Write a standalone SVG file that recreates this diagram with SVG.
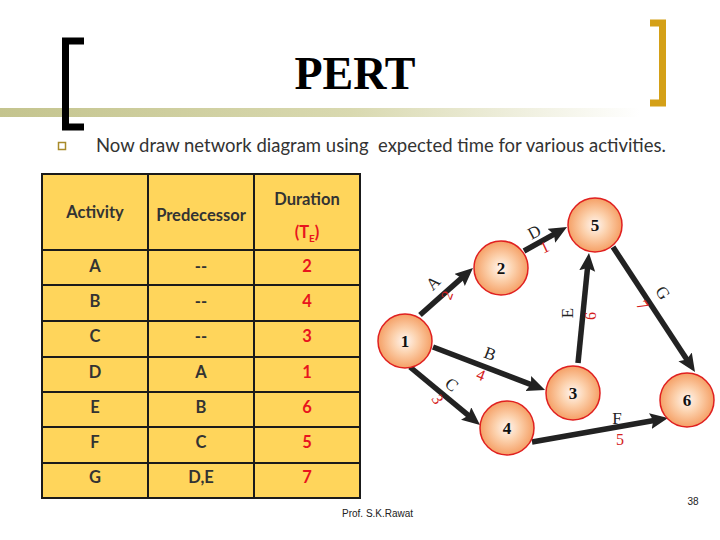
<svg xmlns="http://www.w3.org/2000/svg" width="720" height="540" viewBox="0 0 720 540">
<defs>
<linearGradient id="bar" x1="0" y1="0" x2="1" y2="0">
<stop offset="0" stop-color="#C4C48E"/>
<stop offset="0.55" stop-color="#D9D9B0"/>
<stop offset="1" stop-color="#FFFFFF"/>
</linearGradient>
<radialGradient id="ball" cx="0.5" cy="0.5" r="0.5">
<stop offset="0" stop-color="#FFF6F2"/>
<stop offset="0.45" stop-color="#FCD2AE"/>
<stop offset="1" stop-color="#F5A066"/>
</radialGradient>
<marker id="ah" markerUnits="userSpaceOnUse" markerWidth="20" markerHeight="18" refX="8" refY="8" orient="auto">
<path d="M0,0 L18,8 L0,16 L3,8 Z" fill="#222"/>
</marker>
<style>
.cell{fill:#FFD55B;stroke:#1a1a1a;stroke-width:2}
.th{font-family:Lato,"Liberation Sans",sans-serif;font-weight:bold;font-size:16.5px;fill:#333;text-anchor:middle}
.td{font-family:Lato,"Liberation Sans",sans-serif;font-weight:bold;font-size:16.5px;fill:#333;text-anchor:middle}
.tn{font-family:Lato,"Liberation Sans",sans-serif;font-weight:bold;font-size:16.5px;fill:#E8141E;text-anchor:middle}
.node circle{fill:url(#ball);stroke:#E02020;stroke-width:1.5}
.node text{font-family:"Liberation Serif",serif;font-weight:bold;font-size:17px;fill:#111;text-anchor:middle}
.edge line{stroke:#222;stroke-width:5.5;marker-end:url(#ah)}
.lt{font-family:"Liberation Serif",serif;font-size:17px;fill:#222;text-anchor:middle}
.ln{font-family:"Liberation Serif",serif;font-size:16px;fill:#D42020;text-anchor:middle}
</style>
</defs>
<rect width="720" height="540" fill="#FFFFFF"/>

<!-- title area -->
<rect x="0" y="108" width="640" height="9" fill="url(#bar)"/>
<path d="M84,41 L65.5,41 L65.5,127 L84,127" fill="none" stroke="#000" stroke-width="7"/>
<path d="M650,23 L662.5,23 L662.5,103 L650,103" fill="none" stroke="#D4A017" stroke-width="7"/>
<text x="355" y="89" font-family="Liberation Serif,serif" font-weight="bold" font-size="46" text-anchor="middle" fill="#000">PERT</text>
<rect x="58.5" y="142.5" width="7" height="7" fill="#fff" stroke="#A88A2A" stroke-width="1.5"/>
<text x="96" y="152" xml:space="preserve" style="white-space:pre" font-family="Lato,'Liberation Sans',sans-serif" font-size="18.5" fill="#333">Now draw network diagram using  expected time for various activities.</text>

<!-- table -->
<g id="table">
<rect class="cell" x="42" y="174" width="106" height="76"/>
<rect class="cell" x="148" y="174" width="106" height="76"/>
<rect class="cell" x="254" y="174" width="106" height="76"/>
<g>
<rect class="cell" x="42" y="250" width="106" height="35"/><rect class="cell" x="148" y="250" width="106" height="35"/><rect class="cell" x="254" y="250" width="106" height="35"/>
<rect class="cell" x="42" y="285" width="106" height="36"/><rect class="cell" x="148" y="285" width="106" height="36"/><rect class="cell" x="254" y="285" width="106" height="36"/>
<rect class="cell" x="42" y="321" width="106" height="36"/><rect class="cell" x="148" y="321" width="106" height="36"/><rect class="cell" x="254" y="321" width="106" height="36"/>
<rect class="cell" x="42" y="357" width="106" height="35"/><rect class="cell" x="148" y="357" width="106" height="35"/><rect class="cell" x="254" y="357" width="106" height="35"/>
<rect class="cell" x="42" y="392" width="106" height="35"/><rect class="cell" x="148" y="392" width="106" height="35"/><rect class="cell" x="254" y="392" width="106" height="35"/>
<rect class="cell" x="42" y="427" width="106" height="36"/><rect class="cell" x="148" y="427" width="106" height="36"/><rect class="cell" x="254" y="427" width="106" height="36"/>
<rect class="cell" x="42" y="463" width="106" height="35"/><rect class="cell" x="148" y="463" width="106" height="35"/><rect class="cell" x="254" y="463" width="106" height="35"/>
</g>
<text class="th" x="95" y="218">Activity</text>
<text class="th" x="201" y="221">Predecessor</text>
<text class="th" x="307" y="205">Duration</text>
<text class="tn" x="307" y="238">(T<tspan font-size="10" dy="4">E</tspan><tspan dy="-4">)</tspan></text>
<text class="td" x="95" y="272">A</text><text class="td" x="201" y="272">--</text><text class="tn" x="307" y="272">2</text>
<text class="td" x="95" y="307">B</text><text class="td" x="201" y="307">--</text><text class="tn" x="307" y="307">4</text>
<text class="td" x="95" y="342">C</text><text class="td" x="201" y="342">--</text><text class="tn" x="307" y="342">3</text>
<text class="td" x="95" y="378">D</text><text class="td" x="201" y="378">A</text><text class="tn" x="307" y="378">1</text>
<text class="td" x="95" y="413">E</text><text class="td" x="201" y="413">B</text><text class="tn" x="307" y="413">6</text>
<text class="td" x="95" y="448">F</text><text class="td" x="201" y="448">C</text><text class="tn" x="307" y="448">5</text>
<text class="td" x="95" y="483">G</text><text class="td" x="201" y="483">D,E</text><text class="tn" x="307" y="483">7</text>
</g>

<!-- connectors -->
<g id="connectors" class="edge">
<line x1="420" y1="315" x2="465.5" y2="274.6"/>
<line x1="524" y1="251" x2="558.3" y2="231.9"/>
<line x1="578" y1="363" x2="588" y2="263"/>
<line x1="613" y1="247" x2="689.5" y2="363.6"/>
<line x1="433" y1="347" x2="535.7" y2="386.4"/>
<line x1="410" y1="367" x2="472.3" y2="418.6"/>
<line x1="532" y1="442" x2="658.2" y2="419.7"/>
</g>
<g id="edge-labels">
<text class="lt" transform="translate(437,287) rotate(-45)">A</text>
<text class="ln" transform="translate(452,297) rotate(-70)">2</text>
<text class="lt" transform="translate(537,237) rotate(-28)">D</text>
<text class="ln" transform="translate(547,252) rotate(-25)">1</text>
<text class="lt" transform="translate(573,313) rotate(-90)">E</text>
<text class="ln" transform="translate(596,316) rotate(-90)">6</text>
<text class="lt" transform="translate(658,296) rotate(57)">G</text>
<text class="ln" transform="translate(638,308) rotate(57)">7</text>
<text class="lt" transform="translate(488,359) rotate(21)">B</text>
<text class="ln" transform="translate(479,380) rotate(21)">4</text>
<text class="lt" transform="translate(448,389) rotate(40)">C</text>
<text class="ln" transform="translate(433,402) rotate(60)">3</text>
<text class="lt" x="617" y="424">F</text>
<text class="ln" x="620" y="445">5</text>
</g>

<!-- nodes -->
<g id="n1" class="node"><circle cx="405" cy="341" r="27"/><text x="405" y="347">1</text></g>
<g id="n2" class="node"><circle cx="501" cy="268" r="27"/><text x="501" y="274">2</text></g>
<g id="n5" class="node"><circle cx="595" cy="225" r="27"/><text x="595" y="231">5</text></g>
<g id="n3" class="node"><circle cx="573" cy="393" r="27"/><text x="573" y="399">3</text></g>
<g id="n4" class="node"><circle cx="507" cy="428" r="27"/><text x="507" y="434">4</text></g>
<g id="n6" class="node"><circle cx="687" cy="400" r="27"/><text x="687" y="406">6</text></g>

<text x="693" y="505" font-family="'Liberation Sans',sans-serif" font-size="10" fill="#222" text-anchor="middle">38</text>
<text x="342" y="517" font-family="'Liberation Sans',sans-serif" font-size="10" fill="#222">Prof. S.K.Rawat</text>
</svg>
